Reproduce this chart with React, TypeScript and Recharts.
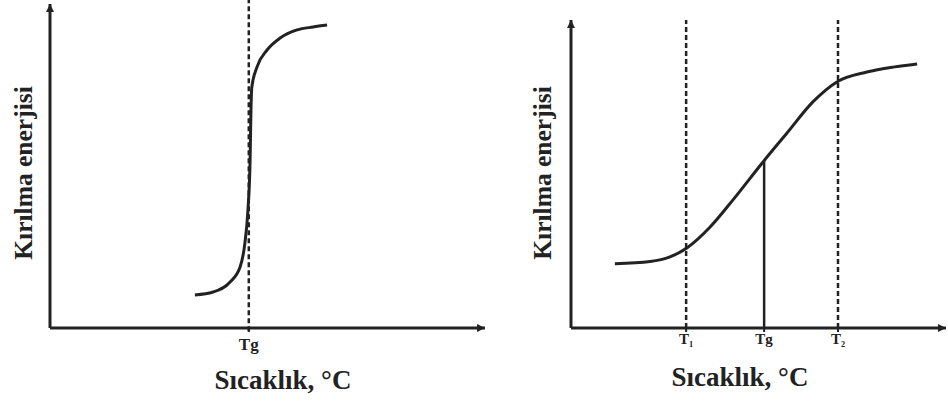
import React from "react";
import { LineChart, Line, XAxis, YAxis, ReferenceLine, Label } from "recharts";

// left panel: sharp transition around Tg
const leftTemp = [33.3, 37.5, 41.4, 43.7, 44.8, 45.5, 46.0, 46.2, 46.4, 47.6, 49.9, 52.9, 56.8, 60.5, 63.7];
const leftEnergy = [10.2, 11.1, 14.2, 18.8, 26.2, 36.4, 51.9, 67.3, 74.4, 80.6, 85.8, 89.5, 92.0, 92.9, 93.5];
const leftTg = 45.7;

// right panel: gradual transition between T1 and T2
const rightTemp = [11.7, 21.1, 26.4, 30.9, 37.1, 43.2, 51.2, 57.6, 64.5, 70.9, 78.9, 85.9, 92.3];
const rightEnergy = [20.9, 21.6, 23.1, 26.0, 32.8, 41.6, 53.9, 63.3, 73.4, 79.9, 83.1, 84.7, 85.7];
const rightT1 = 30.7;
const rightTg = 51.5;
const rightT2 = 71.2;
const rightTgEnergy = 54.5;

const tickNames = [
  { value: leftTg, main: "T", sub: "g" },
  { value: rightT1, main: "T", sub: "1" },
  { value: rightTg, main: "T", sub: "g" },
  { value: rightT2, main: "T", sub: "2" },
];

const leftData = leftTemp.map((t, i) => ({ t, e: leftEnergy[i] }));
const rightData = rightTemp.map((t, i) => ({ t, e: rightEnergy[i] }));

const INK = "#222";
const FONT = "'Liberation Serif', 'Times New Roman', serif";

const Arrow = ({ id }: { id: string }) => (
  <defs>
    <marker id={id} viewBox="0 0 10 10" refX={10} refY={5} markerWidth={10} markerHeight={8}
      markerUnits="userSpaceOnUse" orient="auto-start-reverse">
      <path d="M0,0 L10,5 L0,10 z" fill={INK} />
    </marker>
  </defs>
);

const makeTick = (fontSize: number, dy: number) => (props: any) => {
  const { x, y, payload } = props;
  const found = tickNames.find((n) => Math.abs(n.value - payload.value) < 0.01);
  if (!found) return null;
  const isG = found.sub === "g";
  return (
    <text x={x} y={y + dy} textAnchor="middle" fontFamily={FONT} fontWeight="bold" fill={INK} stroke="none" fontSize={fontSize}>
      {isG ? (
        <tspan>Tg</tspan>
      ) : (
        <>
          <tspan>{found.main}</tspan>
          <tspan fontSize={fontSize * 0.55} dy={3}>{found.sub}</tspan>
        </>
      )}
    </text>
  );
};

const yTitle = (x: number, dy: number) => (props: any) => {
  const vb = props.viewBox;
  const cy = vb.y + vb.height / 2 + dy;
  return (
    <text x={x} y={cy} transform={`rotate(-90 ${x} ${cy})`} textAnchor="middle" dominantBaseline="central"
      fontFamily={FONT} fontWeight="bold" fontSize={25.5} fill={INK}>
      Kırılma enerjisi
    </text>
  );
};

const xTitle = (cx: number, cy: number) => () => (
  <text x={cx} y={cy} textAnchor="middle" dominantBaseline="central"
    fontFamily={FONT} fontWeight="bold" fontSize={27} fill={INK}>
    Sıcaklık, °C
  </text>
);

const dashed = { stroke: INK, strokeWidth: 2.5, strokeDasharray: "5 3" };

export default function App() {
  return (
    <div style={{ position: "absolute", left: 0, top: 0, width: 948, height: 401, background: "#fff" }}>
      <div style={{ position: "absolute", left: 0, top: 0 }}>
        <LineChart width={500} height={401} data={leftData} margin={{ top: 4, right: 15, left: 0, bottom: 0 }}>
          <Arrow id="arrowL" />
          <XAxis dataKey="t" type="number" domain={[0, 100]} ticks={[leftTg]} height={73}
            stroke={INK} strokeWidth={3}
            axisLine={{ stroke: INK, strokeWidth: 3, markerEnd: "url(#arrowL)" }}
            tickLine={{ stroke: INK, strokeWidth: 2 }} tickSize={4} tick={makeTick(17, 16)}>
            <Label content={xTitle(283, 380)} />
          </XAxis>
          <YAxis type="number" domain={[0, 100]} width={50} tick={false} tickLine={false}
            stroke={INK} strokeWidth={3}
            axisLine={{ stroke: INK, strokeWidth: 3, markerStart: "url(#arrowL)" }}>
            <Label content={yTitle(23, 7)} />
          </YAxis>
          <ReferenceLine segment={[{ x: leftTg, y: -1 }, { x: leftTg, y: 101.5 }]} ifOverflow="visible" {...dashed} />
          <Line dataKey="e" type="monotone" stroke={INK} strokeWidth={3} dot={false} isAnimationActive={false} />
        </LineChart>
      </div>
      <div style={{ position: "absolute", left: 500, top: 0 }}>
        <LineChart width={448} height={401} data={rightData} margin={{ top: 20, right: 2, left: 0, bottom: 0 }}>
          <Arrow id="arrowR" />
          <XAxis dataKey="t" type="number" domain={[0, 100]} ticks={[rightT1, rightTg, rightT2]} height={73}
            stroke={INK} strokeWidth={3}
            axisLine={{ stroke: INK, strokeWidth: 3, markerEnd: "url(#arrowR)" }}
            tickLine={{ stroke: INK, strokeWidth: 2 }} tickSize={4} tick={makeTick(15, 10)}>
            <Label content={xTitle(240, 377)} />
          </XAxis>
          <YAxis type="number" domain={[0, 100]} width={71} tick={false} tickLine={false}
            stroke={INK} strokeWidth={3}
            axisLine={{ stroke: INK, strokeWidth: 3, markerStart: "url(#arrowR)" }}>
            <Label content={yTitle(42, -1)} />
          </YAxis>
          <ReferenceLine x={rightT1} {...dashed} />
          <ReferenceLine x={rightT2} {...dashed} />
          <ReferenceLine segment={[{ x: rightTg, y: 0 }, { x: rightTg, y: rightTgEnergy }]}
            stroke={INK} strokeWidth={2.5} />
          <Line dataKey="e" type="monotone" stroke={INK} strokeWidth={3} dot={false} isAnimationActive={false} />
        </LineChart>
      </div>
    </div>
  );
}
